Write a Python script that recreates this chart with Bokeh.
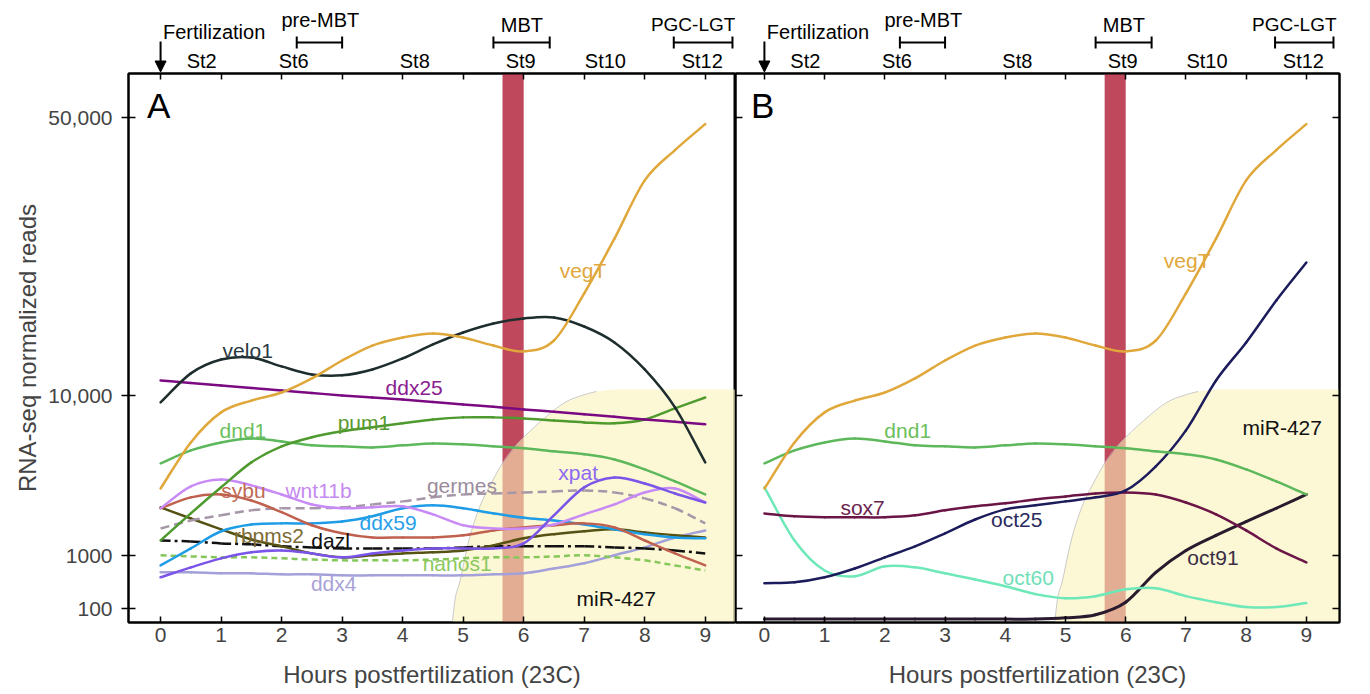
import numpy as np
from bokeh.plotting import figure
from bokeh.models import (Range1d, LinearAxis, FixedTicker, Label, Arrow,
                          NormalHead, TeeHead, BoxAnnotation)
from bokeh.layouts import row, column
from bokeh.embed import file_html
from bokeh.resources import INLINE

# ---------------- data (RNA-seq normalized reads) ----------------
hours = [0.0, 0.5, 1.0, 1.5, 2.0, 2.5, 3.0, 3.5, 4.0, 4.5,
         5.0, 5.5, 6.0, 6.5, 7.0, 7.5, 8.0, 8.5, 9.0]

vegT   = [3600, 6370, 8620, 9600, 10300, 11590, 13340, 14900, 15780, 16230,
          15780, 14900, 14280, 15450, 21060, 28710, 38200, 43700, 48720]
velo1  = [9440, 12070, 13440, 13650, 12750, 11970, 11880, 12450, 13550, 15020,
          16340, 17370, 17960, 18080, 17020, 15240, 12450, 9030, 5070]
ddx25  = [11400, 11170, 10940, 10710, 10480, 10260, 10040, 9860, 9690, 9480,
          9270, 9070, 8860, 8660, 8460, 8260, 8060, 7870, 7680]
dnd1   = [5010, 5830, 6370, 6650, 6440, 6170, 6100, 6030, 6170, 6300,
          6240, 6100, 5970, 5770, 5580, 5250, 4650, 3970, 3300]
pum1   = [1440, 2440, 3660, 5070, 6100, 6730, 7160, 7460, 7760, 8060,
          8220, 8220, 8140, 7980, 7830, 7760, 8060, 8940, 9860]
sybu   = [2660, 3160, 3300, 3010, 2490, 1970, 1680, 1540, 1540, 1540,
          1610, 1780, 1890, 1970, 2040, 1890, 1440, 1060, 760]
wnt11b = [2660, 3710, 4080, 3760, 3300, 2830, 2660, 2700, 2750, 2400,
          1970, 1850, 1850, 2000, 2400, 2830, 3400, 3600, 2920]
xpat   = [513, 716, 929, 1090, 1140, 1060, 955, 1060, 1140, 1200,
          1200, 1200, 1350, 2360, 3660, 4190, 3860, 3350, 2920]
rbpms2 = [2700, 2230, 1820, 1470, 1260, 1060, 955, 1010, 1060, 1090,
          1140, 1290, 1510, 1650, 1750, 1820, 1710, 1610, 1540]
germes = [1850, 2150, 2360, 2570, 2660, 2660, 2700, 2830, 2970, 3160,
          3300, 3350, 3400, 3450, 3500, 3400, 3110, 2660, 2040]
ddx59  = [760, 1200, 1750, 2000, 2040, 2040, 2110, 2320, 2660, 2790,
          2660, 2440, 2260, 2150, 2000, 1820, 1650, 1540, 1510]
dazl   = [1440, 1410, 1350, 1320, 1260, 1230, 1200, 1200, 1200, 1200,
          1230, 1260, 1260, 1260, 1260, 1230, 1200, 1140, 1060]
nanos1 = [1010, 980, 955, 955, 930, 900, 880, 880, 880, 900,
          930, 955, 955, 980, 1010, 955, 880, 760, 650]
ddx4   = [610, 610, 590, 590, 570, 570, 550, 550, 550, 550,
          550, 570, 590, 690, 810, 1010, 1230, 1540, 1780]
sox7   = [2440, 2320, 2280, 2280, 2280, 2360, 2570, 2750, 2880, 3060,
          3200, 3350, 3400, 3300, 2920, 2400, 1780, 1200, 830]
oct25  = [408, 424, 513, 690, 955, 1260, 1680, 2190, 2610, 2790,
          2970, 3160, 3500, 4830, 7230, 11400, 15240, 20150, 25220]
oct60  = [3660, 1440, 648, 532, 739, 716, 590, 474, 361, 249,
          200, 224, 314, 330, 224, 157, 112, 112, 148]
oct91  = [34, 34, 34, 34, 34, 34, 34, 34, 34, 34,
          40, 57, 157, 610, 1140, 1610, 2110, 2660, 3300]

# miR-427 domain outline (hours, reads)
mir427_edge_hours = [4.80, 4.87, 4.95, 5.05, 5.14, 5.27, 5.40, 5.65, 5.90,
                     6.30, 6.68, 7.00, 7.20, 7.50, 9.80]
mir427_edge_reads = [0, 200, 455, 1100, 1780, 2700, 3500, 5010, 6300,
                     7980, 9440, 10100, 10390, 10570, 10570]

hour_ticks = [0, 1, 2, 3, 4, 5, 6, 7, 8, 9]
read_ticks = [100, 1000, 10000, 50000]
read_tick_labels = ["100", "1000", "10,000", "50,000"]

stage_names = ["St2", "St6", "St8", "St9", "St10", "St12"]
stage_hours = [0.68, 2.20, 4.20, 5.95, 7.35, 8.95]
period_names = ["pre-MBT", "MBT", "PGC-LGT"]
period_start = [2.25, 5.50, 8.48]
period_end = [3.00, 6.43, 9.45]
period_label_hours = [2.64, 5.97, 8.80]
mbt_band = [5.65, 6.00]

# ---------------- styling / scale ----------------
FONT = "Liberation Sans"
POW = 0.48
Y_START, Y_END = 4.25, 195.5
FRAME_H = 549
PXU = FRAME_H / (Y_END - Y_START)
HEAD_H = 72
BOTTOM = 70
LW = 2.5


def tr(v):
    return np.power(np.asarray(v, dtype=float), POW)


tick_pos = [float(t) for t in tr(read_ticks)]


def smooth(p, xs, ys, **kw):
    """Draw a smooth curve through the points using cubic Bezier segments."""
    x = np.asarray(xs, float)
    y = np.asarray(ys, float)
    n = len(x)
    xp = np.concatenate([[2 * x[0] - x[1]], x, [2 * x[-1] - x[-2]]])
    yp = np.concatenate([[2 * y[0] - y[1]], y, [2 * y[-1] - y[-2]]])
    c1x = x[:-1] + (x[1:] - xp[:n - 1]) / 6
    c1y = y[:-1] + (y[1:] - yp[:n - 1]) / 6
    c2x = x[1:] - (xp[3:n + 2] - x[:-1]) / 6
    c2y = y[1:] - (yp[3:n + 2] - y[:-1]) / 6
    p.bezier(x0=x[:-1], y0=y[:-1], x1=x[1:], y1=y[1:],
             cx0=c1x, cy0=c1y, cx1=c2x, cy1=c2y, **kw)


def make_header(p_main, first, width):
    h = figure(width=width, height=HEAD_H, x_range=p_main.x_range,
               y_range=Range1d(0, HEAD_H), output_backend="svg",
               toolbar_location=None,
               min_border_left=128 if first else 0,
               min_border_right=0 if first else 6,
               min_border_top=0, min_border_bottom=0,
               background_fill_color="white", border_fill_color="white")
    h.axis.visible = False
    h.grid.visible = False
    h.outline_line_color = None

    def yy(page_y):
        return HEAD_H - page_y

    for nm, hx in zip(stage_names, stage_hours):
        h.add_layout(Label(x=hx, y=yy(60), text=nm, text_color="black",
                           text_font=FONT, text_font_size="20px",
                           text_align="center", text_baseline="middle"))
    for nm, a, b, lx in zip(period_names, period_start, period_end, period_label_hours):
        h.add_layout(Arrow(start=TeeHead(size=12, line_width=2),
                           end=TeeHead(size=12, line_width=2),
                           x_start=a, x_end=b, y_start=yy(42), y_end=yy(42),
                           line_width=2, line_color="black"))
        py = 19 if nm == "pre-MBT" else 24
        fs = "19px" if nm == "PGC-LGT" else "20px"
        h.add_layout(Label(x=lx, y=yy(py), text=nm, text_color="black",
                           text_font=FONT, text_font_size=fs,
                           text_align="center", text_baseline="middle"))
    h.add_layout(Label(x=0.04, y=yy(31), text="Fertilization", text_color="black",
                       text_font=FONT, text_font_size="20px",
                       text_align="left", text_baseline="middle"))
    h.add_layout(Arrow(end=NormalHead(size=11, fill_color="black", line_color="black"),
                       x_start=0, x_end=0, y_start=yy(41), y_end=0.5,
                       line_width=2, line_color="black"))
    return h


def make_panel(letter, series, notes, first, width, x_range):
    p = figure(width=width, height=1 + FRAME_H + BOTTOM,
               x_range=Range1d(*x_range), y_range=Range1d(Y_START, Y_END),
               output_backend="svg", toolbar_location=None,
               min_border_left=128 if first else 0,
               min_border_right=0 if first else 6,
               min_border_top=1, min_border_bottom=BOTTOM,
               background_fill_color="white", border_fill_color="white")
    p.outline_line_color = "black"
    p.outline_line_width = 2
    p.xgrid.visible = False
    p.ygrid.visible = False

    xa = p.xaxis[0]
    xa.ticker = FixedTicker(ticks=hour_ticks)
    xa.major_tick_in = 6
    xa.major_tick_out = 0
    xa.minor_tick_line_color = None
    xa.axis_line_width = 2
    xa.major_tick_line_width = 1.5
    xa.major_label_text_font = FONT
    xa.major_label_text_font_size = "21px"
    xa.major_label_standoff = 5
    xa.axis_label = "Hours postfertilization (23C)"
    xa.axis_label_text_font = FONT
    xa.axis_label_text_font_size = "24px"
    xa.axis_label_text_font_style = "normal"
    xa.axis_label_standoff = 16

    ya = p.yaxis[0]
    ya.ticker = FixedTicker(ticks=tick_pos)
    ya.minor_tick_line_color = None
    ya.axis_line_width = 2
    ya.major_tick_line_width = 1.5
    if first:
        ya.major_label_overrides = {t: s for t, s in zip(tick_pos, read_tick_labels)}
        ya.major_tick_in = 7
        ya.major_tick_out = 7
        ya.major_label_text_font = FONT
        ya.major_label_text_font_size = "21px"
        ya.major_label_standoff = 9
        ya.axis_label = "RNA-seq normalized reads"
        ya.axis_label_text_font = FONT
        ya.axis_label_text_font_size = "24px"
        ya.axis_label_text_font_style = "normal"
        ya.axis_label_standoff = 4
    else:
        ya.major_label_overrides = {t: "" for t in tick_pos}
        ya.major_label_text_font_size = "0px"
        ya.major_label_standoff = 0
        ya.major_tick_in = 7
        ya.major_tick_out = 0
        right = LinearAxis(ticker=FixedTicker(ticks=tick_pos), major_tick_in=7,
                           major_tick_out=0, major_label_text_font_size="0px",
                           major_label_standoff=0, minor_tick_line_color=None,
                           axis_line_width=2, major_tick_line_width=1.5)
        right.major_label_overrides = {t: "" for t in tick_pos}
        p.add_layout(right, "right")

    top = LinearAxis(ticker=FixedTicker(ticks=hour_ticks), major_tick_in=6,
                     major_tick_out=0, major_label_text_font_size="0px",
                     major_label_standoff=0, minor_tick_line_color=None,
                     axis_line_width=2, major_tick_line_width=1.5)
    top.major_label_overrides = {h: "" for h in hour_ticks}
    p.add_layout(top, "above")

    # MBT band
    p.add_layout(BoxAnnotation(left=mbt_band[0], right=mbt_band[1],
                               fill_color="#c0485c", fill_alpha=1.0,
                               line_color=None, level="underlay"))
    # miR-427 domain
    px_ = mir427_edge_hours + [mir427_edge_hours[-1]]
    py_ = list(tr(mir427_edge_reads)) + [0.0]
    p.patch(px_, py_, fill_color="#faf2b8", fill_alpha=0.6, line_color=None)
    smooth(p, mir427_edge_hours[:-2], tr(mir427_edge_reads[:-2]),
           line_color="#bdbdbd", line_width=0.8)

    for vals, col, dash, lw in series:
        smooth(p, hours, tr(vals), line_color=col, line_width=lw, line_dash=dash,
               line_cap="round" if dash == "solid" else "butt")

    for txt, hx, rv, col in notes:
        p.add_layout(Label(x=hx, y=float(tr(rv)), text=txt, text_color=col,
                           text_font=FONT, text_font_size="21px",
                           text_align="center", text_baseline="middle"))

    p.add_layout(Label(x=-0.03, y=Y_END - 32 / PXU, text=letter, text_color="black",
                       text_font=FONT, text_font_size="35px",
                       text_align="center", text_baseline="middle"))
    return p


series_A = [
    (ddx4, "#a3a0da", "solid", LW),
    (nanos1, "#86c75a", "6 4", LW),
    (dazl, "#111111", "10 4 3 4", LW),
    (rbpms2, "#555214", "solid", LW),
    (ddx59, "#1e9ce6", "solid", LW),
    (germes, "#a596a8", "9 5", LW),
    (sybu, "#c0604e", "solid", LW),
    (wnt11b, "#c88af5", "solid", LW),
    (xpat, "#7a55e8", "solid", LW),
    (dnd1, "#5cb85a", "solid", LW),
    (pum1, "#4e9a2e", "solid", LW),
    (ddx25, "#7b0a82", "solid", LW),
    (velo1, "#1e2d2d", "solid", LW),
    (vegT, "#e0a73a", "solid", LW),
]
notes_A = [
    ("velo1", 1.44, 14380, "#2b3a42"),
    ("ddx25", 4.19, 10750, "#8a2090"),
    ("dnd1", 1.36, 7230, "#6cbf5c"),
    ("pum1", 3.36, 7830, "#5a9a30"),
    ("vegT", 6.98, 24100, "#e0a73a"),
    ("sybu", 1.37, 3500, "#c06a55"),
    ("wnt11b", 2.61, 3500, "#c58af0"),
    ("germes", 4.98, 3760, "#9a8c9c"),
    ("xpat", 6.90, 4480, "#8c6af0"),
    ("ddx59", 3.76, 2080, "#2aa0ea"),
    ("rbpms2", 1.79, 1610, "#7d6a34"),
    ("dazl", 2.81, 1440, "#111111"),
    ("nanos1", 4.90, 808, "#8cc860"),
    ("ddx4", 2.86, 408, "#a8a2d8"),
    ("miR-427", 7.53, 200, "#111111"),
]
series_B = [
    (oct91, "#2a1a2e", "solid", 3.0),
    (oct60, "#6ee8b8", "solid", LW),
    (sox7, "#6b1446", "solid", LW),
    (oct25, "#1c1c5c", "solid", LW),
    (dnd1, "#5cb85a", "solid", LW),
    (vegT, "#e0a73a", "solid", LW),
]
notes_B = [
    ("vegT", 7.02, 25500, "#e0a73a"),
    ("dnd1", 2.38, 7230, "#6cbf5c"),
    ("sox7", 1.63, 2700, "#6b2450"),
    ("oct25", 4.19, 2190, "#2a2a60"),
    ("oct91", 7.45, 955, "#3a2e44"),
    ("oct60", 4.38, 513, "#70e0b8"),
    ("miR-427", 8.60, 7450, "#111111"),
]

pA = make_panel("A", series_A, notes_A, True, 735, (-0.53, 9.5))
pB = make_panel("B", series_B, notes_B, False, 610, (-0.48, 9.55))
hA = make_header(pA, True, 735)
hB = make_header(pB, False, 610)

layout = row(column(hA, pA), column(hB, pB))
open("out.html", "w").write(file_html(layout, INLINE))
